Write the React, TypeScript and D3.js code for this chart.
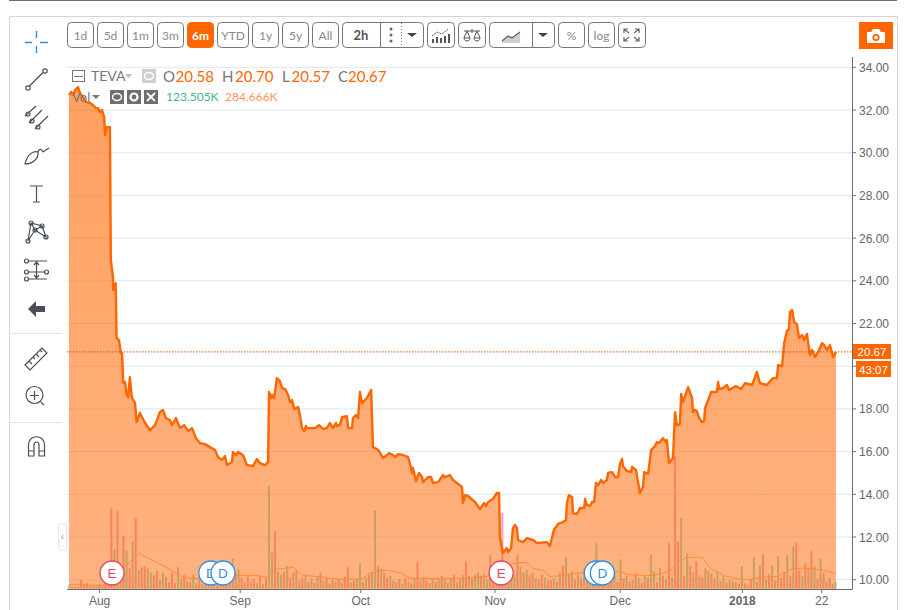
import React from "react";
import * as d3 from "d3";

const priceBars = [0,0.7,1.3,2,3,3.6,4.6,5.6,6.9,7.9,8.9,9.6,10.2,10.9,11.6,11.9,12.5,13.5,13.8,14.5,14.6,15.4,15.7,16.5,17.1,17.5,17.9,18.5,19,19.5,20.1,20.7,21.8,22.3,23.4,25.1,26.7,28.4,30,31,32,33.3,34,35.3,36.6,38,39.3,40.6,41.9,43.2,44.9,46.5,48.2,49.2,50.5,51.5,52.1,53.8,54.1,55.1,55.8,57.4,58.7,60.7,62,63,64.7,65.7,66,66.7,67,67.7,68.6,69.6,70.3,71.3,72.3,72.9,73.6,74.3,75.6,76.2,76.9,77.6,78.2,78.5,81.2,82.5,83.8,85.1,86.1,87.1,88.1,88.4,89.4,90.1,90.4,91.7,92.1,93.4,93.7,94.7,95.4,96,96.7,98.3,99.7,100.3,101.6,102.3,103.6,104.9,105.6,106.9,107.6,108.6,110.2,111.9,112.9,113.2,113.5,114.5,115.5,116.5,116.8,118.5,119.5,120.1,121.8,123.4,124.1,125.7,126.7,129.7,130,130.7,131.7,134,135.6,137,137.6,138.3,139.9,141.2,141.9,142.2,143.2,144.5,144.9,145.9,146.5,147.2,147.8,148.2,149.8,151.1,153.1,154.4,157.7,158.7,160,161.4,163,164,164.3,165,166,166.3,167.6,168.6,170,170.3,170.9,171.9,172.6,173.3,173.9,174.6,175.6,176.2,177.5,177.9,179.2,180.2,181.2,181.8,182.5,182.8,184.1,185.5,185.8,187.1,188.4,189.4,189.8,191.1,192.1,193.4,194,194.7,196,197,197.3,198,199.3,200,200.6,201.6,202,202.6,204.3,205.6,205.9,206.6,207.2,207.9,208.9,209.6,209.9,210.9,211.9,213.8,214.2,214.5,215.8,217.1,217.8,220.1,221.8,223.1,225.4,227,228,230.3,232.3,233.6,234,235.3,236,236.9,237.6,237.9,238.6,239.3,240.2,240.9,241.9,242.6,243.5,244.5,245.2,246.2,247.2,248.5,249.2,250.1,251.1,252.1,253.1];
const priceCloses = [32.70,32.84,32.70,32.93,33.07,32.79,32.61,32.37,32.33,32.23,32.09,32.09,31.90,32.00,31.67,30.83,31.20,31.20,24.97,24.18,23.57,23.89,21.32,21.22,20.62,20.62,19.21,19.26,18.65,18.55,19.49,18.55,18.27,17.38,17.81,17.34,17.01,17.24,17.85,17.95,17.57,17.48,17.24,17.57,17.10,17.24,16.96,17.10,16.63,16.40,16.35,16.21,16.07,15.74,15.60,15.79,15.37,15.51,15.98,15.84,15.98,15.84,15.37,15.32,15.65,15.46,15.37,15.51,18.79,18.51,18.65,18.51,19.44,19.30,18.98,18.93,18.65,18.32,18.41,17.99,18.09,17.71,17.10,16.96,17.20,17.10,17.10,17.24,17.06,17.10,17.34,17.10,17.34,17.20,17.24,17.62,17.62,17.66,17.10,17.10,17.57,17.71,17.57,18.79,18.27,18.51,18.88,16.21,16.12,16.03,15.70,15.84,15.93,15.84,15.74,15.88,15.84,15.74,15.23,15.00,15.23,14.62,15.00,14.81,14.57,14.81,14.81,14.53,14.57,14.90,14.81,14.90,14.67,14.34,13.59,13.96,13.92,13.64,13.31,13.59,13.45,13.64,13.78,14.06,14.06,12.00,11.25,11.48,11.29,11.48,12.42,12.56,12.42,11.86,11.76,11.95,11.86,11.72,11.76,11.58,12.33,12.61,12.70,12.79,13.59,13.96,13.87,13.12,13.07,13.36,13.36,13.78,13.50,13.45,13.64,13.64,14.53,14.43,14.67,14.53,14.67,15.00,15.04,14.81,14.81,15.42,15.65,15.32,15.09,15.04,15.28,15.14,14.06,14.34,15.04,14.95,16.07,16.26,16.45,16.40,16.63,16.45,16.54,15.46,15.70,17.85,17.24,17.29,18.70,18.32,19.02,18.51,17.85,17.95,17.90,17.57,17.38,17.43,18.04,18.41,18.79,18.79,19.26,18.93,18.98,19.12,18.88,19.07,18.93,19.21,19.12,19.73,19.21,19.12,19.44,19.44,20.05,20.01,21.08,21.65,21.74,22.54,22.63,22.07,21.97,21.32,21.46,21.22,21.51,20.52,20.76,20.43,20.67,21.08,20.99,20.76,20.99,20.43,20.67];

// Positive: up bar, negative: down bar (thousands of shares)
const signedVolume = [
60,-30,40,-35,-170,-90,-100,60,-60,40,
-90,60,-120,-60,-1520,740,-1460,300,-1000,720,
-380,890,-1330,350,-400,-420,380,300,-260,-330,
160,300,-220,120,-300,-100,400,180,-260,140,
-120,260,100,-160,80,-150,120,-220,160,-100,
100,-240,180,-120,570,-300,360,-200,120,-240,
130,-180,100,-240,80,-200,1920,680,-1080,320,
260,-320,420,-200,300,-340,150,-200,260,-130,
190,-100,220,-300,150,-200,100,-160,130,-180,
110,-220,-400,120,-150,170,480,-120,210,-260,
300,1480,-420,380,-300,-200,240,-140,120,-180,
90,-200,130,-100,170,-510,160,-220,-150,100,
200,-130,170,-240,190,-110,200,-260,120,-160,
250,-510,240,-180,260,300,-240,280,170,-630,
-200,220,-260,-1425,300,-220,360,260,-630,420,
-300,350,-250,300,-200,170,-260,210,-150,-160,
190,-130,300,-420,590,-260,320,-170,280,-190,
360,-150,260,-230,855,-200,-320,180,-220,-150,
300,-120,550,-190,240,-130,170,-290,200,-110,
240,-210,650,330,-120,380,-240,170,-855,210,
-2500,-890,1330,-240,665,-420,300,-520,250,-210,
380,-330,280,-190,320,-140,230,-110,170,-130,
120,-90,420,-100,60,-170,590,-120,430,-640,
170,-260,440,-150,610,-200,-310,630,-240,800,
-870,-340,230,-480,380,-720,420,-170,560,-300,
130,-200,90,123.5];

const maBars = [0,11,19,23,27,32.7,37.6,42,46.5,54,62,65.3,68.6,74,77,82,86,91.4,97,99,102.3,105,110,112.5,119,130,138,146.5,151,153,156.4,158.7,163,166.3,171,178.5,182,184.2,187.5,193,198.3,201,204,209,211.6,216,221.5,224.8,228,233.6,239,244.5,249,253];
const maVolume = [76,57,437,665,551,380,209,190,209,247,247,209,361,399,247,228,190,171,190,285,342,342,285,190,190,190,228,475,494,380,342,228,247,285,304,304,323,266,247,247,323,513,589,589,380,247,171,171,209,228,380,380,342,285];

const priceTicks = [34,32,30,28,26,24,22,20,18,16,14,12,10];
const timeTickBars = [10.1,56.5,96.3,140.6,181.9,222.2,248.4];
const timeTickLabels = ["Aug","Sep","Oct","Nov","Dec","2018","22"];
const earningsBars = [14.2,142.6];
const dividendBars = [46.8,50.8,174,176];
const dividendLetters = ["D","D","","D"];

const rangeButtons = ["1d","5d","1m","3m","6m","YTD","1y","5y","All"];
const rangeLefts = [67,97,127,157,187,217,252,282,312];
const rangeWidths = [26,26,26,26,26,31,26,26,26];
const legendLabels = ["O","H","L","C"];
const legendValues = ["20.58","20.70","20.57","20.67"];
const legendLabelLefts = [163,222,282,338];
const legendValueLefts = [175.5,235,291.5,348];
const lastClose = 20.67;
const countdown = "43:07";
const ticker = "TEVA";
const maValueLabel = "284.666K";
const volValueLabel = "123.505K";

const W = 904, H = 610;
const ORANGE = "#ff6600";
const GREY = "#6e6e6e";
const ICON = "#4a4f57";
const UI = "Lato, 'Open Sans', sans-serif";
const AX = "'Liberation Sans', Arial, sans-serif";

const x = d3.scaleLinear().domain([0, 253.1]).range([69, 836]);
const y = d3.scaleLinear().domain([10, 34]).range([579.7, 67.3]);
const yVol = d3.scaleLinear().domain([0, 2500]).range([588.5, 456]);
const bottom = 589;

const line = d3.line<number>().x((_, i) => x(priceBars[i])).y(d => y(d));
const area = d3.area<number>().x((_, i) => x(priceBars[i])).y0(bottom).y1(d => y(d));
const maLine = d3.line<number>().x((_, i) => x(maBars[i])).y(d => yVol(d));

function Btn({ left, w, label, active }: { left: number; w: number; label?: string; active?: boolean }) {
  return (
    <g>
      <rect x={left + 0.5} y={22.5} width={w} height={25} rx={4} fill={active ? ORANGE : "#fff"} stroke={active ? ORANGE : "#777"} />
      {label && <text x={left + w / 2 + 0.5} y={40} textAnchor="middle" fontFamily={UI} fontSize={12} fontWeight={active ? 700 : 400} fill={active ? "#fff" : "#8a8a8a"}>{label}</text>}
    </g>
  );
}

function Icons() {
  const s = { fill: "none", stroke: ICON, strokeWidth: 1.2 };
  return (
    <g>
      <g stroke="#2b8fe6" strokeWidth={1.4}>
        <path d="M25 42.5H32M40 42.5H48M36.5 31V38M36.5 46V53" />
      </g>
      <g {...s}>
        <path d="M29.5 86L43 72.5" /><circle cx={28} cy={88} r={2.2} /><circle cx={45} cy={71} r={2.2} />
        <path d="M25 116L36 106M29 123L42 110M35 129L48 116" /><circle cx={28} cy={114} r={2} /><circle cx={32} cy={121} r={2} /><circle cx={38} cy={127} r={2} />
        <path d="M25 164C27 155 33 150 38 152C39 158 33 164 25 164ZM38 152C39 148 42 149 43 152M43 152L49 148" />
        <path d="M30 186H43M36.5 186V202M33 202H40" />
        <path d="M28 241L31 223L42 226L46 237L35 230L28 241M31 223L35 230M42 226L35 230" />
        <circle cx={28} cy={241} r={2} /><circle cx={31} cy={223} r={2} /><circle cx={42} cy={226} r={2} /><circle cx={46} cy={237} r={2} /><circle cx={35} cy={230} r={2} />
        <path d="M29 261H47M29 279H47M28 272H44M36.5 263V277M34 265L36.5 262L39 265M34 275L36.5 278L39 275" />
        <circle cx={26.5} cy={261} r={2} /><circle cx={26.5} cy={272} r={2} /><circle cx={26.5} cy={279} r={2} /><circle cx={46.5} cy={272} r={2} />
        <path d="M25 365L42 348L47 353L30 370ZM29 361L32 364M33 357L35 359M36 354L39 357M40 350L42 352" />
        <circle cx={34.5} cy={395} r={8.5} /><path d="M30 395.5H39M34.5 391V400M41 402L44 405" />
        <path d="M28.5 456V445C28.5 434 44.5 434 44.5 445V456H39V445C39 441 34 441 34 445V456ZM28.5 451H34M39 451H44.5" />
      </g>
      <path d="M28 309L36 301V306H45V312H36V317Z" fill={ICON} />
    </g>
  );
}

export default function App() {
  const gridLeft = 67, axisX = 852;
  return (
    <svg width={W} height={H} viewBox={`0 0 ${W} ${H}`} style={{ position: "absolute", left: 0, top: 0, display: "block" }}>
      <defs>
        <linearGradient id="fill" gradientUnits="userSpaceOnUse" x1={0} x2={0} y1={87} y2={589}>
          <stop offset="0%" stopColor={ORANGE} stopOpacity={0.62} />
          <stop offset="100%" stopColor={ORANGE} stopOpacity={0.5} />
        </linearGradient>
      </defs>
      <rect width={W} height={H} fill="#fff" />
      <path d="M9 0.5H897" stroke="#6f6f6f" />
      <path d="M9.5 610V16.5H897.5V610" fill="none" stroke="#d5d5d5" />
      <path d="M10 333.5H62M10 422.5H62" stroke="#e4e4e8" />

      {rangeButtons.map((b, i) => <Btn key={b} left={rangeLefts[i]} w={rangeWidths[i]} label={b} active={b === "6m"} />)}
      <Btn left={342} w={81} />
      <text x={361} y={40} textAnchor="middle" fontFamily={UI} fontSize={13} fontWeight={700} fill="#555">2h</text>
      <path d="M380.5 23V47" stroke="#777" />
      <path d="M401.5 23V47" stroke="#777" strokeDasharray="1 2" />
      <circle cx={391} cy={29} r={1.5} fill="#666" /><circle cx={391} cy={35} r={1.5} fill="#666" /><circle cx={391} cy={41} r={1.5} fill="#666" />
      <path d="M407 33H417L412 37Z" fill="#444" />
      <Btn left={427} w={27} />
      <path d="M432 36L437 32L442 34L448 29" fill="none" stroke="#555" strokeDasharray="2 1" />
      <path d="M433 43V39M437 43V37M441 43V38M445 43V36M449 43V34" stroke="#555" strokeWidth={2} />
      <Btn left={458} w={27} />
      <path d="M464 31H480M472 29V33M467 31L464 38H470ZM477 31L474 38H480Z" fill="none" stroke="#555" />
      <path d="M464 38C464 42 470 42 470 38M474 38C474 42 480 42 480 38" fill="none" stroke="#555" />
      <Btn left={489} w={65} />
      <path d="M532.5 23V47" stroke="#777" />
      <path d="M502 43V41L508 36L512 38L520 32V43Z" fill="#d0d0d0" />
      <path d="M502 41L508 36L512 38L520 32" fill="none" stroke="#666" strokeWidth={1.4} />
      <path d="M538 33H548L543 37Z" fill="#444" />
      <Btn left={558} w={26} label="%" />
      <Btn left={588} w={26} label="log" />
      <Btn left={618} w={27} />
      <path d="M624 33V29H628M639 33V29H635M624 37V41H628M639 37V41H635M624 29L629 33M639 29L634 33M624 41L629 37M639 41L634 37" fill="none" stroke="#666" strokeWidth={1.2} />
      <rect x={859} y={22} width={34} height={27} fill={ORANGE} />
      <path d="M867 32H871L873 29H879L881 32H885V43H867Z" fill="#fff" />
      <circle cx={876} cy={37.5} r={3.6} fill={ORANGE} /><circle cx={876} cy={37.5} r={1.8} fill="#fff" />

      <Icons />
      <rect x={58.5} y={523.5} width={8} height={27} rx={3} fill="#fff" stroke="#e3e3e8" />
      <text x={62.5} y={540} textAnchor="middle" fontFamily={AX} fontSize={10} fill="#999">‹</text>

      {priceTicks.map(t => <path key={t} d={`M${gridLeft} ${y(t)}H${axisX}`} stroke="#dde8f0" strokeWidth={1} />)}

      {signedVolume.map((v, i) => (
        <rect key={i} x={x(i) - 1} y={yVol(Math.abs(v))} width={2} height={588.5 - yVol(Math.abs(v))} fill={v >= 0 ? "#8fdcc0" : "#f59fbc"} />
      ))}
      <path d={area(priceCloses) ?? ""} fill="url(#fill)" />
      <path d={maLine(maVolume) ?? ""} fill="none" stroke="#ff8a3c" strokeWidth={1} />
      <path d={line(priceCloses) ?? ""} fill="none" stroke={ORANGE} strokeWidth={2.4} strokeLinejoin="round" />
      <path d={`M${gridLeft} ${y(lastClose)}H${axisX}`} stroke="#d9530a" strokeWidth={1} strokeDasharray="1.5 1.5" />

      <path d={`M${axisX + 0.5} 57V589.5H67`} fill="none" stroke={GREY} strokeWidth={1} />
      {priceTicks.map(t => (
        <g key={t}>
          <path d={`M${axisX} ${y(t)}H856`} stroke={GREY} />
          <text x={859} y={y(t) + 4.5} fontFamily={AX} fontSize={12} fill="#666">{t.toFixed(2)}</text>
        </g>
      ))}
      {timeTickBars.map((b, i) => (
        <g key={timeTickLabels[i]}>
          <path d={`M${x(b)} 589V593`} stroke={GREY} />
          <text x={x(b)} y={604.5} textAnchor="middle" fontFamily={AX} fontSize={12} fontWeight={timeTickLabels[i] === "2018" ? 700 : 400} fill="#666">{timeTickLabels[i]}</text>
        </g>
      ))}

      <rect x={853} y={344} width={38} height={15} fill={ORANGE} />
      <text x={872} y={356} textAnchor="middle" fontFamily={AX} fontSize={11.5} fill="#fff">{lastClose.toFixed(2)}</text>
      <rect x={856} y={361} width={35} height={16} fill={ORANGE} />
      <text x={873.5} y={373.5} textAnchor="middle" fontFamily={AX} fontSize={11.5} fill="#fff">{countdown}</text>

      {dividendBars.map((b, i) => (
        <g key={b}>
          <circle cx={x(b)} cy={573} r={12} fill="#fff" stroke="#2b8fe6" strokeWidth={1.3} />
          {dividendLetters[i] && <text x={x(b)} y={578} textAnchor="middle" fontFamily={AX} fontSize={13.5} fill="#2b8fe6">{dividendLetters[i]}</text>}
        </g>
      ))}
      {earningsBars.map(b => (
        <g key={b}>
          <circle cx={x(b)} cy={573} r={12} fill="#fff" stroke="#e5455f" strokeWidth={1.3} />
          <text x={x(b)} y={578} textAnchor="middle" fontFamily={AX} fontSize={13.5} fill="#e5455f">E</text>
        </g>
      ))}

      <rect x={72.5} y={70.5} width={12} height={11} fill="none" stroke="#777" />
      <path d="M74 76.5H83" stroke="#777" />
      <text x={91} y={81} fontFamily={UI} fontSize={14} fill="#777">{ticker}</text>
      <path d="M125 74H132L128.5 78Z" fill="#bbb" />
      <rect x={142} y={69} width={14} height={14} fill="#cfcfcf" />
      <ellipse cx={149} cy={76} rx={4.5} ry={3.5} fill="none" stroke="#fff" strokeWidth={1.5} />
      {legendLabels.map((l, i) => (
        <g key={l}>
          <text x={legendLabelLefts[i]} y={82} fontFamily={UI} fontSize={15} fill="#777">{l}</text>
          <text x={legendValueLefts[i]} y={82} fontFamily={UI} fontSize={15} fill={ORANGE}>{legendValues[i]}</text>
        </g>
      ))}
      <text x={72} y={102} fontFamily={UI} fontSize={13} fill="#777">Vol</text>
      <path d="M92 95H100L96 99Z" fill="#777" />
      <rect x={110} y={90} width={14} height={14} fill={GREY} />
      <ellipse cx={117} cy={97} rx={4.5} ry={3.5} fill="none" stroke="#fff" strokeWidth={1.5} />
      <rect x={127} y={90} width={14} height={14} fill={GREY} />
      <circle cx={134} cy={97} r={3.5} fill="none" stroke="#fff" strokeWidth={2.2} />
      <rect x={144} y={90} width={14} height={14} fill={GREY} />
      <path d="M147 93L155 101M155 93L147 101" stroke="#fff" strokeWidth={1.8} />
      <text x={166} y={101} fontFamily={UI} fontSize={12} fill="#49b389">{volValueLabel}</text>
      <text x={225} y={101} fontFamily={UI} fontSize={12} fill="#ff945a">{maValueLabel}</text>
    </svg>
  );
}
